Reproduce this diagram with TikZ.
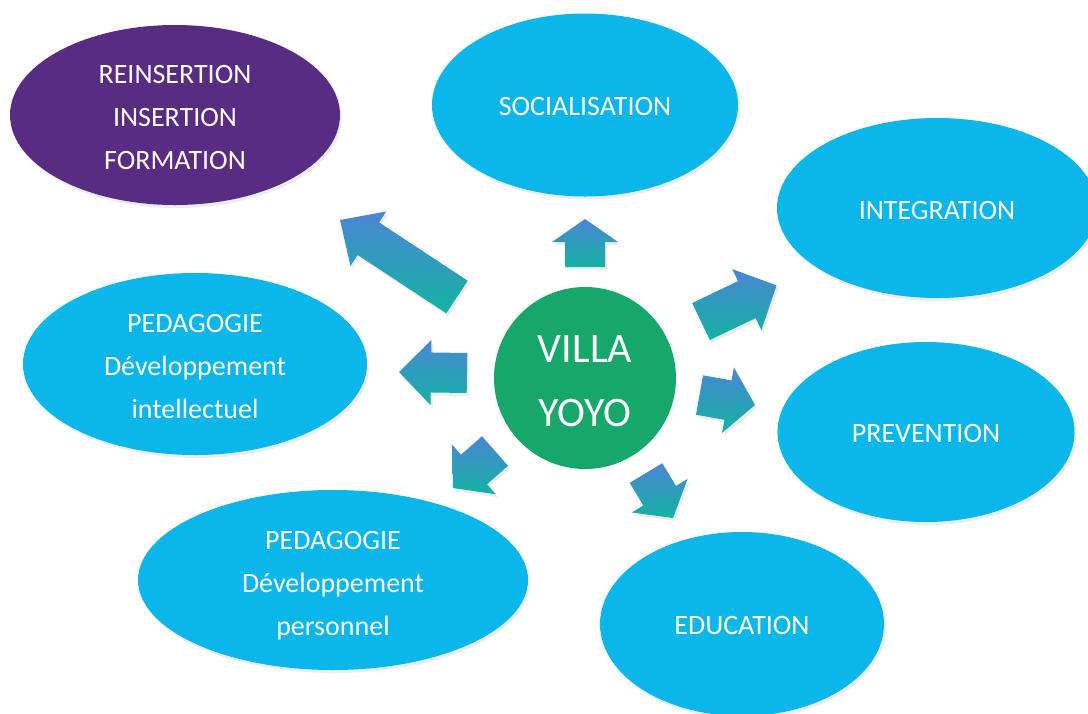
\documentclass[tikz,border=0pt]{standalone}
\usepackage{fontspec}
\setmainfont{Carlito}
\usetikzlibrary{shapes.geometric,calc,shadows}
\definecolor{skyb}{HTML}{0BB6EB}
\definecolor{purp}{HTML}{582C83}
\definecolor{villag}{HTML}{16A86B}
\definecolor{arrtop}{HTML}{4A86D4}
\definecolor{arrbot}{HTML}{13B3A2}
\tikzset{
  softshadow/.style={drop shadow={opacity=0.15, shadow xshift=2pt, shadow yshift=-3pt}},
  bubble/.style={ellipse, fill=skyb, inner sep=0pt, softshadow},
  txt/.style={text=white, inner sep=0pt, align=center, font=\fontsize{28}{43}\selectfont},
  hub/.style={circle, fill=villag, inner sep=0pt, minimum size=182pt},
  hubtxt/.style={text=white, inner sep=0pt, align=center, font=\fontsize{42}{64}\selectfont},
  blockarr/.style={top color=arrtop, bottom color=arrbot, draw=none, softshadow}
}
% #1 tail, #2 tip, #3 shaft half width, #4 head half width, #5 head length
\newcommand\blockarrow[5]{%
  \coordinate (#1b) at ($(#2)!#5!(#1)$);
  \shade[blockarr]
    ($(#1)!#3!90:(#2)$) -- ($(#1b)!#3!-90:(#1)$) -- ($(#1b)!#4!-90:(#1)$) --
    (#2) -- ($(#1b)!#4!90:(#1)$) -- ($(#1b)!#3!90:(#1)$) --
    ($(#1)!#3!-90:(#2)$) -- cycle;
}
\begin{document}
\begin{tikzpicture}[x=1pt,y=-1pt]
\useasboundingbox (0,0) rectangle (1088,713);
\clip (0,0) rectangle (1088,713);
\fill[white] (0,0) rectangle (1088,713);

\node[bubble, fill=purp, minimum width=330pt, minimum height=180pt] (reins) at (175,115) {};
\node[txt] (reins-t) at ($(reins)+(0,3)$) {REINSERTION\\INSERTION\\FORMATION};
\node[bubble, minimum width=306pt, minimum height=183pt] (soc) at (585,105) {};
\node[txt] (soc-t) at ($(soc)+(0,2)$) {SOCIALISATION};
\node[bubble, minimum width=320pt, minimum height=180pt] (integ) at (937,208) {};
\node[txt] (integ-t) at ($(integ)+(0,3)$) {INTEGRATION};
\node[bubble, minimum width=344pt, minimum height=182pt] (pedint) at (195,364) {};
\node[txt] (pedint-t) at ($(pedint)+(0,3)$) {PEDAGOGIE\\Développement\\intellectuel};
\node[bubble, minimum width=297pt, minimum height=180pt] (prev) at (926,432) {};
\node[txt] (prev-t) at ($(prev)+(0,2)$) {PREVENTION};
\node[bubble, minimum width=390pt, minimum height=180pt] (pedper) at (333,580) {};
\node[txt] (pedper-t) at ($(pedper)+(0,6)$) {PEDAGOGIE\\Développement\\personnel};
\node[bubble, minimum width=284pt, minimum height=184pt] (educ) at (742,624) {};
\node[txt] (educ-t) at ($(educ)+(0,2)$) {EDUCATION};

\node[hub] (villa) at (585,378) {};
\node[hubtxt] (villa-t) at ($(villa)+(0,3)$) {VILLA\\YOYO};

\coordinate (a1t) at (457,297);   \coordinate (a1p) at (340,220);
\coordinate (a2t) at (585,267);   \coordinate (a2p) at (585,219);
\coordinate (a3t) at (467,373);   \coordinate (a3p) at (399,372);
\coordinate (a4t) at (495,451);   \coordinate (a4p) at (453,488);
\coordinate (a5t) at (646,473);   \coordinate (a5p) at (673,518);
\coordinate (a6t) at (701,321.5); \coordinate (a6p) at (776.6,285.4);
\coordinate (a7t) at (699.5,395); \coordinate (a7p) at (755,405);

\blockarrow{a1t}{a1p}{19.5pt}{32.6pt}{34pt}
\blockarrow{a2t}{a2p}{20pt}{33pt}{23pt}
\blockarrow{a3t}{a3p}{20pt}{32.5pt}{32pt}
\blockarrow{a4t}{a4p}{19.7pt}{33pt}{28pt}
\blockarrow{a5t}{a5p}{19pt}{32.6pt}{26pt}
\blockarrow{a6t}{a6p}{20.5pt}{33.8pt}{33pt}
\blockarrow{a7t}{a7p}{20pt}{33.4pt}{27.5pt}
\end{tikzpicture}
\end{document}
